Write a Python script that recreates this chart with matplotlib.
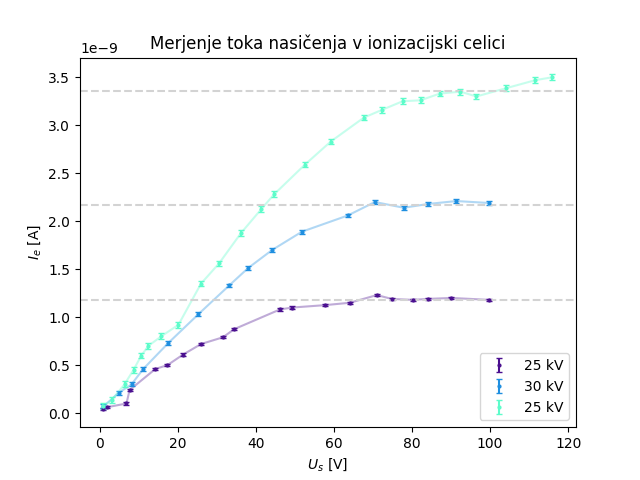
import matplotlib
matplotlib.use("Agg")
import matplotlib.pyplot as plt
import numpy as np

# 25 kV (first)
u1 = [1.0, 1.8, 6.9, 7.7, 14.3, 17.4, 21.4, 26.0, 31.6, 34.5, 46.2, 49.3, 57.7, 64.1, 71.0, 74.8, 80.2, 84.0, 90.1, 99.8]
i1 = [0.04, 0.06, 0.10, 0.24, 0.46, 0.50, 0.61, 0.72, 0.79, 0.875, 1.08, 1.10, 1.125, 1.15, 1.23, 1.19, 1.18, 1.19, 1.20, 1.18]
# 30 kV
u2 = [1.0, 4.9, 8.2, 11.2, 17.6, 25.3, 33.2, 38.0, 44.2, 51.8, 63.6, 70.5, 77.9, 84.2, 91.4, 99.6]
i2 = [0.07, 0.21, 0.30, 0.46, 0.73, 1.03, 1.33, 1.51, 1.70, 1.89, 2.06, 2.20, 2.14, 2.18, 2.21, 2.19]
# 25 kV (second)
u3 = [1.0, 3.1, 6.4, 8.7, 10.7, 12.5, 15.8, 20.2, 26.0, 30.6, 36.2, 41.4, 44.7, 52.6, 59.2, 67.7,
      72.3, 77.6, 82.2, 87.1, 92.4, 96.5, 104.0, 111.6, 115.9]
i3 = [0.07, 0.135, 0.30, 0.45, 0.60, 0.70, 0.80, 0.92, 1.35, 1.56, 1.875, 2.125, 2.28, 2.59, 2.83, 3.08,
      3.16, 3.25, 3.26, 3.33, 3.35, 3.30, 3.385, 3.47, 3.50]
nasicenje = [1.18, 2.17, 3.36]

serije = [(u1, i1, "#4a0f8f", "25 kV", 0.012),
          (u2, i2, "#1f8fe0", "30 kV", 0.02),
          (u3, i3, "#5dfcca", "25 kV", 0.03)]

fig, ax = plt.subplots(figsize=(6.4, 4.8), dpi=100)
for u, i, c, lab, err in serije:
    u = np.array(u)
    i = np.array(i) * 1e-9
    ax.plot(u, i, color=c, alpha=0.35)
    ax.errorbar(u, i, yerr=err * 1e-9, fmt=".", color=c, capsize=2, markersize=4, label=lab)
for y in nasicenje:
    ax.axhline(y * 1e-9, color="lightgray", linestyle="--")

ax.set_xlim(-5, 122)
ax.set_title("Merjenje toka nasičenja v ionizacijski celici")
ax.set_xlabel("$U_s$ [V]")
ax.set_ylabel("$I_e$ [A]")
ax.legend(loc="lower right")
fig.savefig("out.png")
